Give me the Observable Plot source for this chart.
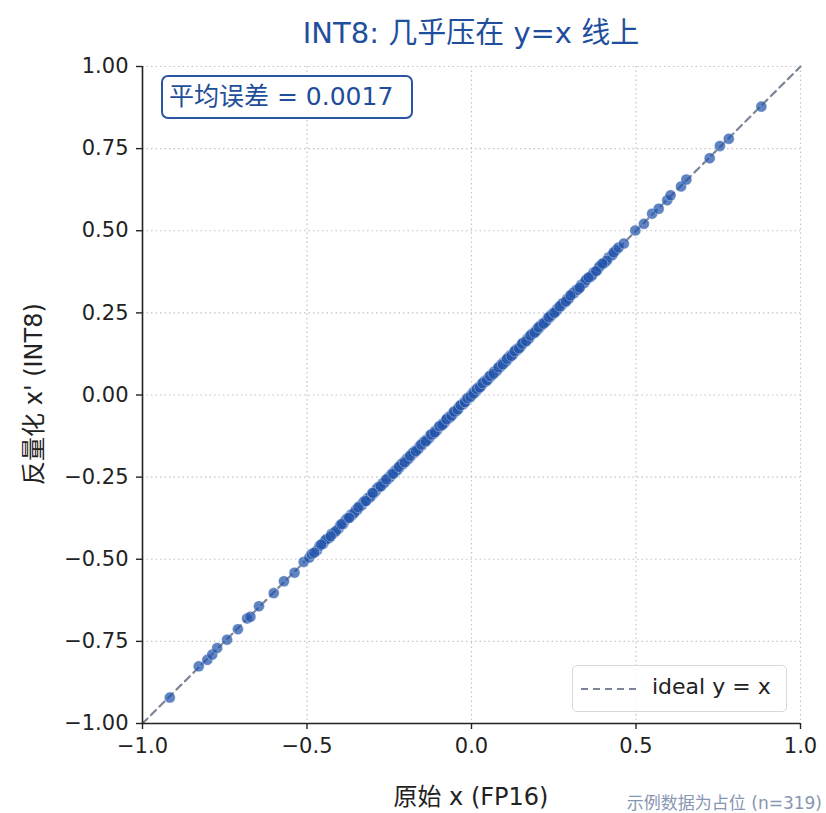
<!DOCTYPE html>
<html>
<head>
<meta charset="utf-8">
<script src="https://cdn.jsdelivr.net/npm/d3@7"></script>
<script src="https://cdn.jsdelivr.net/npm/@observablehq/plot@0.6"></script>
<style>
  body { margin: 0; background: #fff; }
  #wrap { position: relative; width: 826px; height: 813px; overflow: hidden; font-family: "DejaVu Sans", "Noto Sans CJK SC", sans-serif; color: #222; }
  #wrap svg { position: absolute; left: 0; top: 0; }
  .abs { position: absolute; white-space: nowrap; }
  #title { left: 142px; width: 658px; top: 9px; text-align: center; font-size: 29px; color: #1f4f9c; }
  #note { left: 161px; top: 75px; width: 242px; height: 40px; border: 2px solid #2a55a0; border-radius: 7px; background: #fff;
          font-size: 25px; color: #1f4e9a; line-height: 40px; padding-left: 6px; box-sizing: content-box; }
  #legend { left: 572px; top: 665px; width: 213px; height: 45px; border: 1px solid #d8d8d8; border-radius: 5px; background: rgba(255,255,255,0.85); }
  #legend svg { position: absolute; left: 7px; top: 16px; }
  #legend span { position: absolute; left: 79px; top: 8px; font-size: 22px; color: #222; }
  #xlabel { left: 142px; width: 658px; top: 777px; text-align: center; font-size: 24px; }
  #ylabel { left: 31px; top: 394px; font-size: 24px; transform: translate(-50%, -50%) rotate(-90deg); }
  #caption { right: 4px; top: 789px; font-size: 17px; color: #8796b3; }
</style>
</head>
<body>
<div id="wrap">
  <div id="chart"></div>
  <div class="abs" id="title">INT8: 几乎压在 y=x 线上</div>
  <div class="abs" id="note">平均误差 = 0.0017</div>
  <div class="abs" id="legend">
    <svg width="60" height="14"><line x1="1" y1="7" x2="57" y2="7" stroke="#7c8598" stroke-width="2" stroke-dasharray="7,5"/></svg>
    <span>ideal y = x</span>
  </div>
  <div class="abs" id="xlabel">原始 x (FP16)</div>
  <div class="abs" id="ylabel">反量化 x' (INT8)</div>
  <div class="abs" id="caption">示例数据为占位 (n=319)</div>
</div>
<script>
// ---- data: [original x (FP16), dequantized x' (INT8)] ----
const tailLow = [
  [-0.917,-0.921],[-0.829,-0.826],[-0.803,-0.806],[-0.788,-0.790],[-0.773,-0.770],[-0.743,-0.745],
  [-0.710,-0.713],[-0.682,-0.680],[-0.672,-0.675],[-0.646,-0.643],[-0.601,-0.603],[-0.570,-0.567],
  [-0.538,-0.541],[-0.510,-0.508]
];
const tailHigh = [
  [0.447,0.449],[0.463,0.461],[0.498,0.501],[0.524,0.521],[0.549,0.552],[0.569,0.567],[0.595,0.593],
  [0.605,0.608],[0.637,0.635],[0.653,0.656],[0.724,0.721],[0.755,0.758],[0.782,0.780],[0.881,0.878]
];
const coreA = [
  [-0.493,-0.495],[-0.486,-0.484],[-0.470,-0.473],[-0.462,-0.460],[-0.451,-0.453],[-0.446,-0.444],[-0.433,-0.436],
  [-0.425,-0.422],[-0.418,-0.420],[-0.404,-0.407],[-0.399,-0.397],[-0.390,-0.393],[-0.383,-0.381],[-0.371,-0.373],
  [-0.366,-0.364],[-0.362,-0.365],[-0.351,-0.349],[-0.347,-0.350],[-0.340,-0.338],[-0.334,-0.336],[-0.329,-0.327],
  [-0.318,-0.320],[-0.315,-0.313],[-0.311,-0.313],[-0.302,-0.299],[-0.298,-0.300],[-0.290,-0.292],[-0.288,-0.285],
  [-0.279,-0.278],[-0.272,-0.274],[-0.270,-0.268],[-0.262,-0.264],[-0.255,-0.257],[-0.252,-0.250],[-0.247,-0.249],
  [-0.239,-0.236],[-0.233,-0.235],[-0.231,-0.229],[-0.224,-0.226],[-0.219,-0.221],[-0.215,-0.213],[-0.209,-0.211],
  [-0.206,-0.204],[-0.198,-0.200],[-0.196,-0.193],[-0.189,-0.191],[-0.184,-0.186],[-0.180,-0.178],[-0.174,-0.176],
  [-0.171,-0.169],[-0.165,-0.167],[-0.160,-0.162],[-0.157,-0.155],[-0.151,-0.153],[-0.147,-0.145],[-0.140,-0.142],
  [-0.138,-0.136],[-0.131,-0.133],[-0.127,-0.129],[-0.125,-0.122],[-0.118,-0.120],[-0.113,-0.115],[-0.110,-0.108],
  [-0.104,-0.106],[-0.101,-0.100],[-0.095,-0.093],[-0.092,-0.094],[-0.087,-0.086],[-0.082,-0.084],[-0.078,-0.079],
  [-0.071,-0.072],[-0.069,-0.066],[-0.063,-0.065],[-0.058,-0.057],[-0.055,-0.057],[-0.049,-0.050],[-0.044,-0.043],
  [-0.041,-0.043],[-0.036,-0.036],[-0.031,-0.029],[-0.027,-0.029],[-0.022,-0.021],[-0.016,-0.014],[-0.014,-0.014],
  [-0.008,-0.007],[-0.005,-0.007],[0.001,0.000],[0.004,0.007],[0.010,0.007],[0.012,0.014],[0.019,0.021],
  [0.023,0.021],[0.027,0.029],[0.033,0.036],[0.036,0.036],[0.040,0.043],[0.046,0.043],[0.049,0.050],
  [0.053,0.050],[0.058,0.057],[0.063,0.065],[0.066,0.065],[0.071,0.072],[0.075,0.072],[0.080,0.079],
  [0.084,0.086],[0.088,0.086],[0.094,0.093],[0.097,0.100],[0.101,0.100],[0.107,0.108],[0.110,0.108],
  [0.116,0.115],[0.119,0.122],[0.124,0.122],[0.129,0.129],[0.133,0.136],[0.138,0.136],[0.142,0.143],
  [0.147,0.145],[0.152,0.151],[0.156,0.158],[0.161,0.160],[0.167,0.165],[0.170,0.172],[0.176,0.174],
  [0.180,0.182],[0.186,0.187],[0.191,0.189],[0.195,0.196],[0.201,0.203],[0.206,0.204],[0.212,0.211],
  [0.216,0.218],[0.221,0.220],[0.228,0.226],[0.232,0.234],[0.238,0.236],[0.244,0.243],[0.249,0.251],
  [0.255,0.253],[0.260,0.262],[0.266,0.265],[0.273,0.271],[0.278,0.280],[0.285,0.283],[0.291,0.293],
  [0.297,0.295],[0.304,0.306],[0.312,0.310],[0.318,0.320],[0.327,0.325],[0.334,0.336],[0.343,0.341],
  [0.351,0.353],[0.362,0.360],[0.371,0.373],[0.383,0.381],[0.392,0.394],[0.404,0.402],[0.417,0.419],
  [0.428,0.426],[0.439,0.441]
];
const coreB = [
  [-0.478,-0.480],[-0.441,-0.439],[-0.412,-0.414],[-0.377,-0.375],[-0.356,-0.358],[-0.325,-0.323],[-0.307,-0.309],
  [-0.283,-0.281],[-0.266,-0.268],[-0.243,-0.241],[-0.228,-0.230],[-0.212,-0.210],[-0.193,-0.195],[-0.177,-0.175],
  [-0.162,-0.164],[-0.144,-0.142],[-0.134,-0.136],[-0.121,-0.119],[-0.107,-0.109],[-0.098,-0.096],[-0.084,-0.086],
  [-0.074,-0.072],[-0.066,-0.068],[-0.052,-0.050],[-0.046,-0.048],[-0.038,-0.036],[-0.025,-0.027],[-0.019,-0.021],
  [-0.011,-0.009],[-0.002,-0.001],[0.007,0.009],[0.015,0.013],[0.021,0.023],[0.030,0.028],[0.038,0.040],
  [0.043,0.041],[0.055,0.057],[0.061,0.059],[0.069,0.071],[0.078,0.076],[0.091,0.093],[0.104,0.102],
  [0.113,0.115],[0.126,0.124],[0.136,0.138],[0.149,0.147],[0.158,0.160],[0.173,0.171],[0.184,0.186],
  [0.198,0.196],[0.209,0.211],[0.225,0.223],[0.241,0.243],[0.258,0.256],[0.276,0.278],[0.294,0.292],
  [0.309,0.311],[0.322,0.320],[0.347,0.349],[0.366,0.364],[0.388,0.390],[0.411,0.409],[0.432,0.434]
];
const coreC = [
  [-0.457,-0.455],[-0.428,-0.430],[-0.395,-0.393],[-0.372,-0.374],[-0.344,-0.342],[-0.321,-0.323],[-0.300,-0.298],
  [-0.276,-0.278],[-0.259,-0.257],[-0.238,-0.240],[-0.221,-0.219],[-0.203,-0.205],[-0.187,-0.185],[-0.169,-0.171],
  [-0.153,-0.151],[-0.139,-0.141],[-0.123,-0.121],[-0.112,-0.114],[-0.097,-0.095],[-0.089,-0.091],[-0.076,-0.074],
  [-0.061,-0.063],[-0.053,-0.051],[-0.042,-0.044],[-0.033,-0.031],[-0.020,-0.022],[-0.012,-0.010],[-0.003,-0.005],
  [0.006,0.004],[0.016,0.018],[0.025,0.023],[0.034,0.036],[0.047,0.045],[0.056,0.058],[0.067,0.065],
  [0.082,0.084],[0.095,0.093],[0.108,0.110],[0.121,0.119],[0.131,0.133],[0.144,0.142],[0.154,0.156],
  [0.166,0.164],[0.179,0.181],[0.192,0.190],[0.204,0.206],[0.219,0.217],[0.235,0.237],[0.252,0.250],
  [0.268,0.270],[0.287,0.285],[0.301,0.303],[0.329,0.327],[0.356,0.358],[0.379,0.377],[0.398,0.400]
];
const idealLine = [{x: -1, y: -1}, {x: 1, y: 1}];
const xTicks = [-1.0, -0.5, 0.0, 0.5, 1.0];
const yTicks = [-1.0, -0.75, -0.5, -0.25, 0.0, 0.25, 0.5, 0.75, 1.0];

const points = [...tailLow, ...coreA, ...coreB, ...coreC, ...tailHigh].map(([x, y]) => ({x, y}));

const fmtX = d3.format(".1f");
const fmtY = d3.format(".2f");

const chart = Plot.plot({
  width: 826,
  height: 813,
  marginLeft: 142,
  marginRight: 26,
  marginTop: 66,
  marginBottom: 90,
  x: {domain: [-1, 1]},
  y: {domain: [-1, 1]},
  style: {fontFamily: '"DejaVu Sans", "Noto Sans CJK SC", sans-serif', fontSize: "21px", color: "#222", background: "transparent", overflow: "visible"},
  marks: [
    Plot.gridX(xTicks, {stroke: "#c4c4c4", strokeOpacity: 1, strokeWidth: 1.2, strokeDasharray: "1.5,3"}),
    Plot.gridY(yTicks, {stroke: "#c4c4c4", strokeOpacity: 1, strokeWidth: 1.2, strokeDasharray: "1.5,3"}),
    Plot.line(idealLine, {x: "x", y: "y", stroke: "#7c8598", strokeWidth: 2.2, strokeDasharray: "7,5"}),
    Plot.dot(points, {x: "x", y: "y", r: 5.5, fill: "#2255ab", fillOpacity: 0.72, stroke: "#ffffff", strokeOpacity: 0.55, strokeWidth: 0.6}),
    Plot.ruleX([-1], {stroke: "#222", strokeWidth: 1.6}),
    Plot.ruleY([-1], {stroke: "#222", strokeWidth: 1.6}),
    Plot.axisX(xTicks, {tickSize: 6, tickPadding: 9, tickFormat: fmtX, label: null, stroke: "#222", strokeWidth: 1.4, fontSize: 21}),
    Plot.axisY(yTicks, {tickSize: 6, tickPadding: 8, tickFormat: fmtY, label: null, stroke: "#222", strokeWidth: 1.4, fontSize: 21})
  ]
});
document.getElementById("chart").appendChild(chart);
</script>
</body>
</html>
